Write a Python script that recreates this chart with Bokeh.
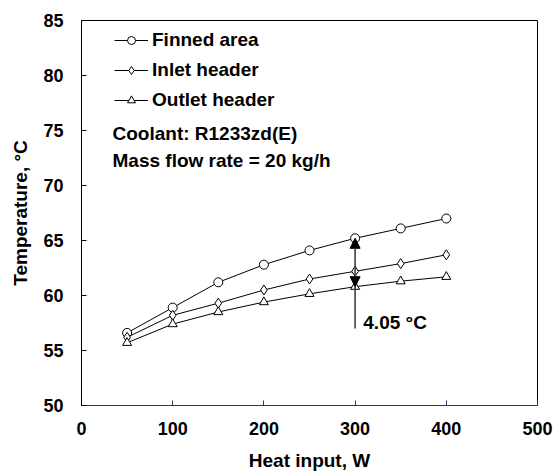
import math
from bokeh.plotting import figure
from bokeh.models import Range1d, Label, Arrow, NormalHead, Legend, LegendItem, FixedTicker
from bokeh.embed import file_html
from bokeh.resources import INLINE

heat_input = [50, 100, 150, 200, 250, 300, 350, 400]
finned_area = [56.6, 58.9, 61.2, 62.8, 64.1, 65.2, 66.1, 67.0]
inlet_header = [56.2, 58.2, 59.3, 60.5, 61.5, 62.2, 62.9, 63.7]
outlet_header = [55.7, 57.4, 58.5, 59.4, 60.15, 60.8, 61.3, 61.7]
x_ticks = [0, 100, 200, 300, 400, 500]
y_ticks = [50, 55, 60, 65, 70, 75, 80, 85]
delta_label = "4.05 °C"

FONT = "Liberation Sans"
FS = "19px"
TICK_FS = "18px"

p = figure(width=555, height=473, output_backend="svg", toolbar_location=None,
           x_range=Range1d(0, 500), y_range=Range1d(50, 85),
           min_border_left=81, min_border_right=18, min_border_top=20, min_border_bottom=68)
p.grid.visible = False
p.background_fill_color = "white"
p.border_fill_color = "white"
p.outline_line_color = "black"
p.outline_line_width = 1

for ax in (p.xaxis[0], p.yaxis[0]):
    ax.major_label_text_font = FONT
    ax.major_label_text_font_style = "bold"
    ax.major_label_text_font_size = TICK_FS
    ax.major_label_text_color = "black"
    ax.major_tick_in = 5
    ax.major_tick_out = 0
    ax.minor_tick_in = 0
    ax.minor_tick_out = 0
    ax.axis_label_text_font = FONT
    ax.axis_label_text_font_style = "bold"
    ax.axis_label_text_font_size = FS
    ax.axis_label_text_color = "black"

p.xaxis.ticker = FixedTicker(ticks=x_ticks)
p.yaxis.ticker = FixedTicker(ticks=y_ticks)
p.xaxis.axis_line_color = "#1F3864"
p.xaxis.major_tick_line_color = "#1F3864"
p.yaxis.axis_line_color = "black"
p.xaxis.major_label_standoff = 16
p.yaxis.major_label_standoff = 18
p.xaxis.axis_label = "Heat input, W"
p.xaxis.axis_label_standoff = 12
p.yaxis.axis_label = "Temperature, °C"
p.yaxis.axis_label_standoff = 9

# arrows
p.add_layout(Arrow(x_start=300, y_start=57.0, x_end=300, y_end=finned_area[5],
                   line_color="#333333", line_width=1.5,
                   end=NormalHead(size=10, fill_color="black", line_color="black")))
p.add_layout(Arrow(x_start=300, y_start=outlet_header[5] + 1.0, x_end=300, y_end=outlet_header[5],
                   line_color="#333333", line_width=1.5,
                   end=NormalHead(size=10, fill_color="black", line_color="black")))

l1 = p.line(heat_input, finned_area, line_color="black", line_width=1)
m1 = p.scatter(heat_input, finned_area, marker="circle", size=9, fill_color="white", line_color="black")
l2 = p.line(heat_input, inlet_header, line_color="black", line_width=1)
m2 = p.scatter(heat_input, inlet_header, marker="diamond", size=10, fill_color="white", line_color="black")
l3 = p.line(heat_input, outlet_header, line_color="black", line_width=1)
m3 = p.scatter(heat_input, outlet_header, marker="triangle", size=9, fill_color="white", line_color="black")

legend = Legend(items=[
    LegendItem(label="Finned area", renderers=[l1, m1]),
    LegendItem(label="Inlet header", renderers=[l2, m2]),
    LegendItem(label="Outlet header", renderers=[l3, m3]),
], location=(33, 294), padding=12, margin=0, spacing=8,
    glyph_width=34, glyph_height=20, label_height=20, label_standoff=4,
    border_line_color=None, background_fill_alpha=0,
    label_text_font=FONT, label_text_font_style="bold", label_text_font_size=FS,
    label_text_color="black")
p.add_layout(legend)

for txt, yv in (("Coolant: R1233zd(E)", 74.7), ("Mass flow rate = 20 kg/h", 72.3)):
    p.add_layout(Label(x=34, y=yv, text=txt, text_align="left", text_baseline="middle",
                       text_font=FONT, text_font_style="bold", text_font_size=FS,
                       text_color="black"))

p.add_layout(Label(x=309, y=57.55, text=delta_label, text_align="left", text_baseline="middle",
                   text_font=FONT, text_font_style="bold", text_font_size=FS,
                   text_color="black"))

open("out.html", "w").write(file_html(p, INLINE))
